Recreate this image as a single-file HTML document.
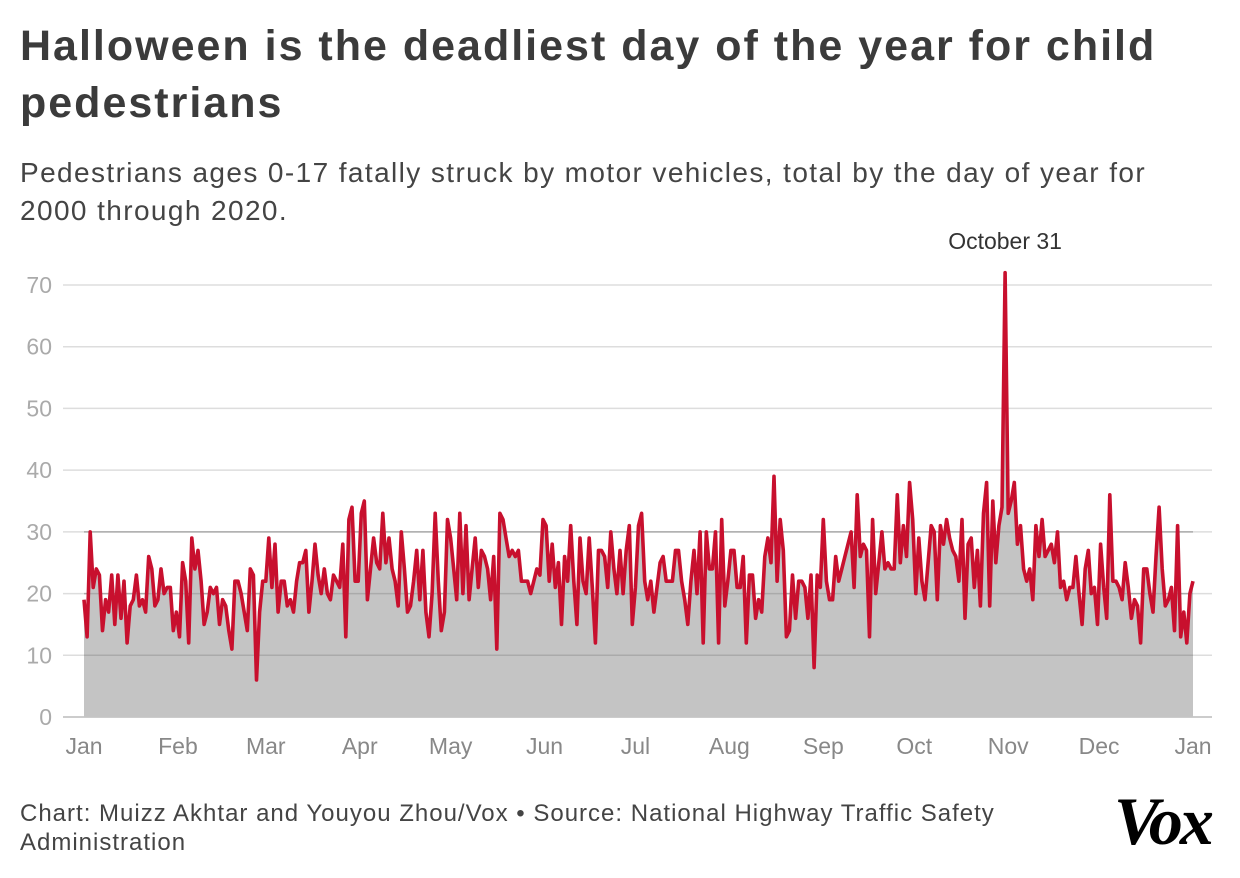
<!DOCTYPE html>
<html><head><meta charset="utf-8"><style>
body{margin:0;background:#fff;width:1240px;height:878px;overflow:hidden;font-family:"Liberation Sans",sans-serif}
#title{position:absolute;left:20px;top:18px;font-size:43px;font-weight:bold;color:#3b3b3b;line-height:57px;width:1190px;letter-spacing:2px}
#sub{position:absolute;left:20px;top:154px;font-size:28px;color:#444;line-height:38px;width:1190px;letter-spacing:1.4px}
#foot{position:absolute;left:20px;top:799px;font-size:24px;color:#444;line-height:29px;width:1020px;letter-spacing:1px}
#logo{position:absolute;left:1114px;top:782px;font-family:"Liberation Serif",serif;font-size:68px;font-weight:bold;font-style:italic;color:#000;letter-spacing:-3px}
svg{position:absolute;left:0;top:0}
</style></head><body>
<div id="title">Halloween is the deadliest day of the year for child pedestrians</div>
<div id="sub">Pedestrians ages 0-17 fatally struck by motor vehicles, total by the day of year for 2000 through 2020.</div>
<svg id="chart" width="1240" height="878"></svg>
<div id="foot">Chart: Muizz Akhtar and Youyou Zhou/Vox • Source: National Highway Traffic Safety Administration</div>
<div id="logo">Vox</div>
<script>
const deaths=[19,13,30,21,24,23,14,19,17,23,15,23,16,22,12,18,19,23,18,19,17,26,24,18,19,24,20,21,21,14,17,13,25,22,12,29,24,27,22,15,17,21,20,21,15,19,18,14,11,22,22,20,17,14,24,23,6,17,22,22,
29,21,28,17,22,22,18,19,17,22,25,25,27,17,22,28,23,20,24,20,19,23,22,21,28,13,32,34,22,22,33,35,19,24,29,25,24,33,25,29,24,22,18,30,24,17,18,22,27,19,27,17,13,20,33,22,14,17,32,
29,24,19,33,20,31,19,24,29,21,27,26,24,19,26,11,33,32,29,26,27,26,27,22,22,22,20,22,24,23,32,31,22,28,21,25,15,26,22,31,22,15,29,22,20,29,21,12,27,27,26,21,30,24,20,27,20,27,31,15,21,
31,33,22,19,22,17,21,25,26,22,22,22,27,27,22,19,15,22,27,20,30,12,30,24,24,30,12,32,18,22,27,27,21,21,26,12,23,23,16,19,17,26,29,25,39,22,32,27,13,14,23,16,22,22,21,16,23,8,23,21,
32,22,19,19,26,22,24,26,28,30,21,36,26,28,27,13,32,20,25,30,24,25,24,24,36,25,31,26,38,32,20,29,22,19,25,31,30,19,31,28,32,29,27,26,22,32,16,28,29,21,27,18,33,38,18,35,25,31,34,
72,
33,35,38,28,31,24,22,24,19,31,26,32,26,27,28,25,30,21,22,19,21,21,26,20,15,24,27,20,21,15,28,21,16,36,22,22,21,19,25,21,16,19,18,12,24,24,20,17,26,34,24,18,19,21,14,31,13,17,12,20,22];
const yTicks=[0,10,20,30,40,50,60,70];
const months=["Jan","Feb","Mar","Apr","May","Jun","Jul","Aug","Sep","Oct","Nov","Dec","Jan"];
const monthStart=[0,31,60,91,121,152,182,213,244,274,305,335,366];
const peakIndex=deaths.indexOf(Math.max(...deaths));
const NS="http://www.w3.org/2000/svg";
const svg=document.getElementById('chart');
const X0=84,X1=1193,Y0=717,Y70=285;
const y=v=>Y0-(v/70)*(Y0-Y70);
const xi=i=>X0+i*(X1-X0)/(deaths.length-1);
const xd=d=>X0+d*(X1-X0)/366;
function mk(t,a){const e=document.createElementNS(NS,t);for(const k in a)e.setAttribute(k,a[k]);svg.appendChild(e);return e;}
yTicks.forEach(t=>{
 const g=mk('line',{x1:63,x2:1212,y1:y(t),y2:y(t),stroke:t===0?'#bbb':'#ddd','stroke-width':1.5});
 
 
 const l=mk('text',{x:52,y:y(t)+8,'text-anchor':'end','font-size':23,fill:'#aaa','font-family':'Liberation Sans, sans-serif'});
 l.textContent=t;
 
 
});
let pts=deaths.map((v,i)=>xi(i).toFixed(1)+','+y(v).toFixed(1));
const area=mk('path',{d:'M'+xi(0)+','+Y0+' L'+pts.join(' L')+' L'+xi(deaths.length-1)+','+Y0+' Z',fill:'#c4c4c4'});


[10,20,30].forEach(t=>{const g=mk('line',{x1:X0,x2:X1,y1:y(t),y2:y(t),stroke:'#aaa','stroke-width':1.5});});
const line=mk('polyline',{points:pts.join(' '),fill:'none',stroke:'#c8102e','stroke-width':3.6,'stroke-linejoin':'round'});


months.forEach((m,i)=>{
 const t=mk('text',{x:xd(monthStart[i]),y:754,'text-anchor':'middle','font-size':23,fill:'#888','font-family':'Liberation Sans, sans-serif'});
 t.textContent=m;
 
 
});
const ann=mk('text',{x:xi(peakIndex),y:249,'text-anchor':'middle','font-size':23,fill:'#333','font-family':'Liberation Sans, sans-serif'});
ann.textContent='October 31';


</script>
</body></html>
